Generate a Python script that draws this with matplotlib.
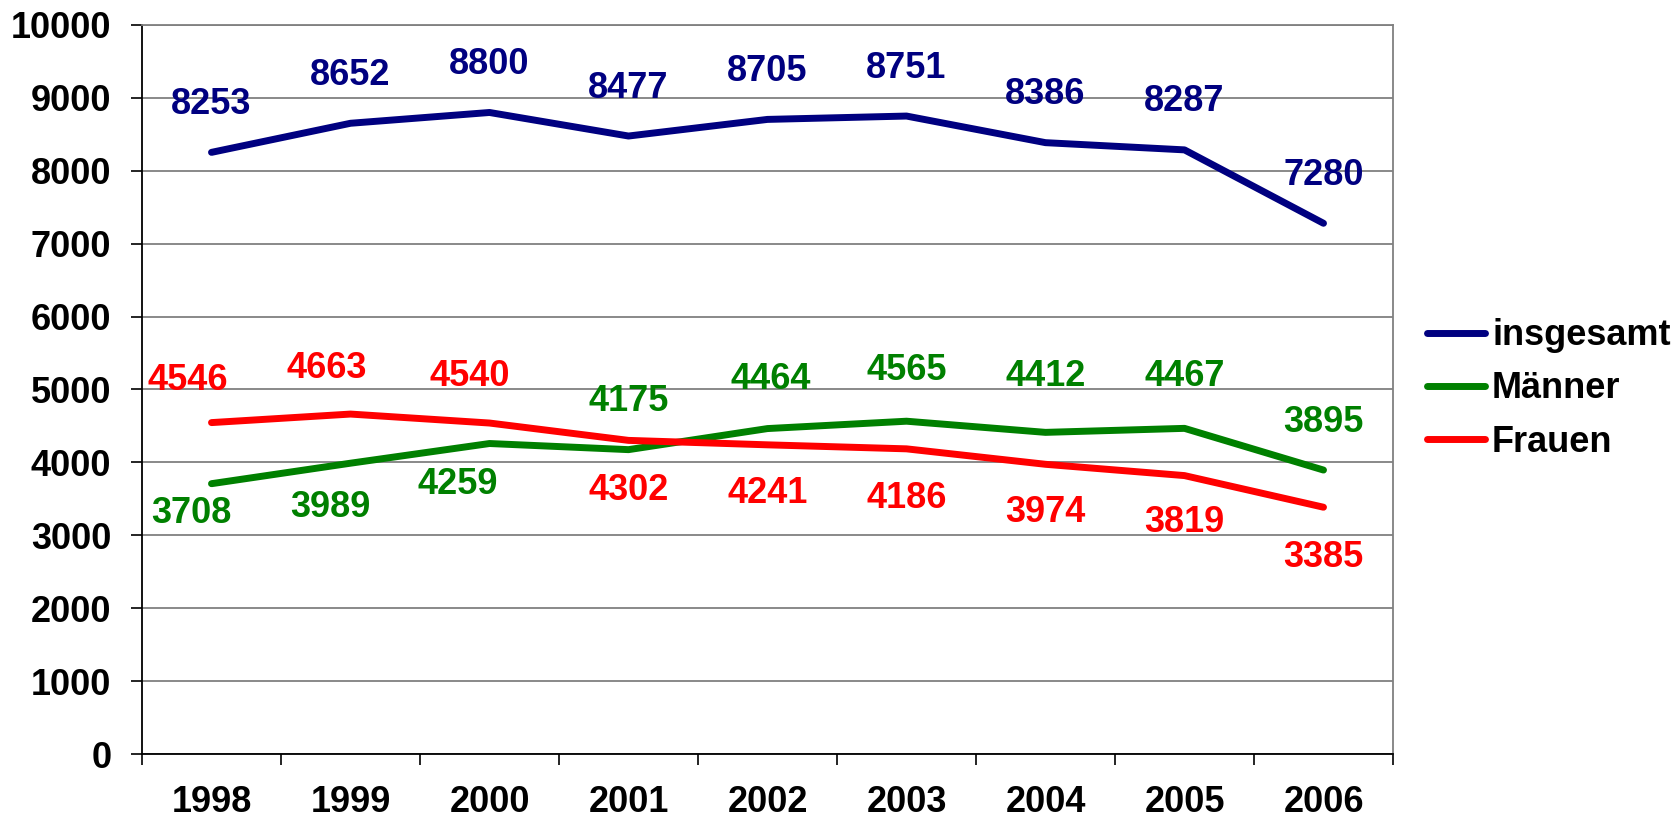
import matplotlib.pyplot as plt
import numpy as np

# Daten
jahre = ['1998', '1999', '2000', '2001', '2002', '2003', '2004', '2005', '2006']
insgesamt = [8253, 8652, 8800, 8477, 8705, 8751, 8386, 8287, 7280]
maenner = [3708, 3989, 4259, 4175, 4464, 4565, 4412, 4467, 3895]
frauen = [4546, 4663, 4540, 4302, 4241, 4186, 3974, 3819, 3385]

# Lage der Beschriftungen (Pixel relativ zum Punkt)
off_ges = [(0, 48)] * 9
off_m = [(-20, -30), (-20, -44), (-32, -41), (0, 48), (3, 49), (0, 51), (0, 56), (0, 52), (0, 48)]
off_f = [(-24, 42), (-24, 46), (-20, 47), (0, -50), (0, -49), (0, -50), (0, -48), (0, -47), (0, -50)]

plt.rcParams['font.family'] = ['Liberation Sans', 'DejaVu Sans']
plt.rcParams['font.weight'] = 'bold'
fs = 26

fig = plt.figure(figsize=(16.76, 8.24), dpi=100)
ax = fig.add_axes([142 / 1676, 70 / 824, (1393 - 142) / 1676, (754 - 25) / 824])

x = np.arange(len(jahre))
reihen = [
    (insgesamt, '#000080', 'insgesamt', off_ges),
    (maenner, '#008000', 'Männer', off_m),
    (frauen, '#FF0000', 'Frauen', off_f),
]
for werte, farbe, name, offs in reihen:
    ax.plot(x, werte, color=farbe, linewidth=5, label=name,
            solid_capstyle='round', solid_joinstyle='round', zorder=3)
    for xi, v, (dx, dy) in zip(x, werte, offs):
        ax.annotate(str(v), (xi, v), xytext=(dx, dy), textcoords='offset pixels',
                    ha='center', va='center', color=farbe, fontsize=fs,
                    fontweight='bold', zorder=4)

# Achsen
ax.set_xlim(-0.5, len(jahre) - 0.5)
ax.set_ylim(0, 10000)
ax.set_yticks(np.arange(0, 10001, 1000))
ax.set_yticklabels([str(v) for v in range(0, 10001, 1000)])
ax.set_xticks(x)
ax.set_xticklabels(jahre)
ax.set_xticks(np.arange(-0.5, len(jahre), 1), minor=True)
ax.tick_params(axis='x', which='major', length=0, pad=22, labelsize=fs)
ax.tick_params(axis='x', which='minor', length=8, width=1.2, direction='out', color='black')
ax.tick_params(axis='y', which='major', length=8, width=1.2, direction='out', pad=14, labelsize=fs)

ax.grid(True, axis='y', color='#808080', linewidth=1.3)
ax.set_axisbelow(True)
ax.spines['left'].set_color('black')
ax.spines['bottom'].set_color('black')
ax.spines['left'].set_linewidth(1.3)
ax.spines['bottom'].set_linewidth(1.3)
ax.spines['right'].set_color('#808080')
ax.spines['top'].set_color('#808080')
ax.spines['right'].set_linewidth(1.3)
ax.spines['top'].set_linewidth(1.3)

# Legende
fig.legend(loc='center left', bbox_to_anchor=(1427 / 1676, 1 - 389 / 824),
           frameon=False, handlelength=1.6, handletextpad=0.2,
           labelspacing=0.5, borderpad=0, borderaxespad=0,
           prop={'weight': 'bold', 'size': fs})

fig.savefig('out.png', dpi=100)
